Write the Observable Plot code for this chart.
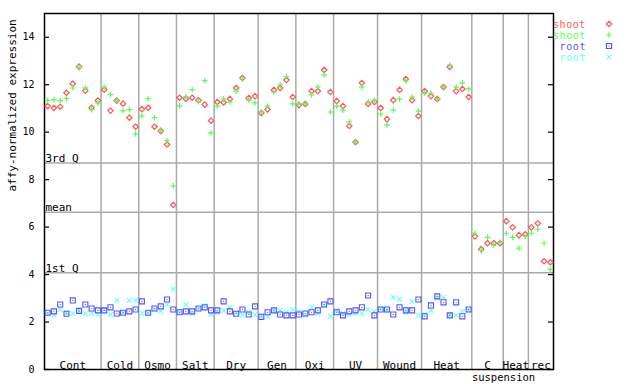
<!DOCTYPE html>
<html><head><meta charset="utf-8">
<script src="https://cdn.jsdelivr.net/npm/d3@7"></script>
<script src="https://cdn.jsdelivr.net/npm/@observablehq/plot@0.6"></script>
<style>
body{margin:0;background:#fff;}
#wrap{position:relative;width:640px;height:384px;}
#wrap svg.overlay{position:absolute;left:0;top:0;pointer-events:none;}
</style></head><body><div id="wrap"></div>
<script>
const groups = ["Cont","Cold","Osmo","Salt","Dry","Gen","Oxi","UV","Wound","Heat","C","Heat","rec"];
const groupSub = ["","","","","","","","","","","suspension","",""];
const groupSizes = [9,6,6,6,7,6,6,7,7,8,5,4,4];

const shootA = [
  11.10,11.02,11.07,11.66,12.04,12.76,11.75,11.03,11.33,
  11.79,10.90,11.33,11.20,10.61,10.23,
  10.97,11.03,10.23,10.05,9.48,6.93,
  11.45,11.41,11.45,11.34,11.16,10.48,
  11.27,11.25,11.40,11.86,12.28,11.44,11.52,
  10.81,10.96,11.78,11.86,12.20,11.48,
  11.14,11.19,11.73,11.73,12.62,11.69,
  11.31,11.10,10.26,9.58,12.07,11.19,11.27,
  11.02,10.55,11.35,11.78,12.24,11.35,10.68,
  11.73,11.52,11.40,11.90,12.75,11.73,11.82,11.48,
  5.61,5.07,5.32,5.32,5.32,
  6.25,5.99,5.66,5.70,
  5.99,6.16,4.56,4.52];
const shootB = [
  11.34,11.37,11.33,11.41,11.86,12.72,11.87,10.95,11.23,
  11.89,11.58,11.33,10.90,10.95,9.93,
  10.68,11.41,10.61,10.10,9.64,7.74,
  11.11,11.49,11.79,11.28,12.17,9.97,
  11.10,11.40,11.27,11.73,12.25,11.35,11.23,
  10.85,11.10,11.69,11.99,12.34,11.19,
  11.19,11.20,11.57,11.90,12.41,10.85,
  11.10,10.93,10.43,9.58,11.90,11.27,11.35,
  10.76,10.30,10.93,11.40,12.16,11.48,10.89,
  11.65,11.65,11.40,11.90,12.83,11.90,12.07,11.82,
  5.74,5.02,5.57,5.23,5.36,
  5.74,5.57,5.11,5.61,
  5.74,5.91,5.32,4.22];
const rootA = [
  2.39,2.45,2.74,2.35,2.91,2.47,2.74,2.57,2.49,
  2.49,2.62,2.36,2.39,2.45,2.53,
  2.87,2.39,2.57,2.66,2.95,2.53,
  2.41,2.45,2.45,2.57,2.62,2.49,
  2.49,2.87,2.45,2.35,2.53,2.32,2.66,
  2.22,2.41,2.49,2.32,2.28,2.28,
  2.32,2.36,2.41,2.49,2.74,2.87,
  2.41,2.28,2.45,2.49,2.62,3.12,2.28,
  2.53,2.53,2.32,2.62,2.49,2.49,2.95,
  2.24,2.70,3.08,2.83,2.28,2.83,2.24,2.53];
const rootB = [
  2.36,2.30,2.53,2.39,2.36,2.47,2.36,2.36,2.32,
  2.53,2.32,2.91,2.39,2.91,2.91,
  2.36,2.39,2.53,2.45,2.74,3.38,
  2.41,2.74,2.36,2.57,2.70,2.32,
  2.41,2.49,2.62,2.39,2.28,2.41,2.32,
  2.28,2.22,2.49,2.49,2.41,2.53,
  2.45,2.28,2.62,2.36,2.70,2.24,
  2.49,2.36,2.32,2.36,2.36,2.53,2.45,
  2.57,2.50,3.04,2.96,2.41,2.87,2.28,
  2.32,2.49,3.00,3.04,2.28,2.28,2.45,2.49];

const yTicks = [0,2,4,6,8,10,12,14];
const refNames = ["3rd Q","mean","1st Q"];
const refValues = [8.70,6.63,4.08];
const yLabel = "affy-normalized expression";
const legendNames = ["shoot","shoot","root","root"];
const legendColors = ["#ff5555","#55ff55","#5555ff","#66ffff"];
const legendSymbols = ["diamond2","plus","square2","times"];

// derived
const nSamples = groupSizes.reduce((a,b)=>a+b,0);
let acc = 0;
const groupInfo = groups.map((g,i)=>{const s=acc; acc+=groupSizes[i]; return {name:g, sub:groupSub[i], center:(s+acc-1)/2, end:acc-0.5};});
const separators = groupInfo.slice(0,-1).map(d=>d.end);
const pts = arr => arr.map((v,i)=>({i,v}));

const W=640,H=384,mL=44,mR=87,mT=13,mB=15;
const frameW = W-mL-mR;
const font = "DejaVu Sans Mono";
const grey = "#aaaaaa";
const R = {diamond2:2.45, plus:1.95, square2:3.2, times:2.25};

const plot = Plot.plot({
  width:W, height:H, marginLeft:mL, marginRight:mR, marginTop:mT, marginBottom:mB,
  style:{fontFamily:font, fontSize:"11px", color:"black", background:"white"},
  x:{domain:[-0.5,nSamples-0.5], axis:null},
  y:{domain:[0,15], axis:null},
  marks:[
    Plot.ruleX(separators,{stroke:grey, strokeWidth:1.5}),
    Plot.ruleY(refValues,{stroke:grey, strokeWidth:1.5}),
    Plot.text(refNames,{y:refValues, text:d=>d, frameAnchor:"left", textAnchor:"start", lineAnchor:"bottom", dx:1, dy:-1, fill:"black"}),
    Plot.text(groupInfo,{x:"center", text:"name", frameAnchor:"bottom", lineAnchor:"bottom", dy:-1, fill:"black"}),
    Plot.text(groupInfo.filter(d=>d.sub),{x:"center", text:"sub", frameAnchor:"bottom", lineAnchor:"top", dy:4, dx:16, fontSize:10.5, fill:"black"}),
    Plot.axisY({ticks:yTicks, tickSize:0, tickPadding:10, label:null, fontSize:"10px"}),
    Plot.tickY(yTicks,{stroke:"black", strokeWidth:1.2, insetRight:frameW-5}),
    Plot.tickY(yTicks,{stroke:"black", strokeWidth:1.2, insetLeft:frameW-5}),
    Plot.text([yLabel],{frameAnchor:"left", rotate:-90, dx:-32, fill:"black"}),
    Plot.frame({stroke:"black", strokeWidth:1.5}),
    Plot.dot(pts(rootB),{x:"i", y:"v", symbol:"times", r:R.times, stroke:legendColors[3], strokeWidth:1.1}),
    Plot.dot(pts(rootA),{x:"i", y:"v", symbol:"square2", r:R.square2, stroke:legendColors[2], strokeWidth:1.1}),
    Plot.dot(pts(rootA),{x:"i", y:"v", r:0.6, fill:legendColors[2], stroke:null}),
    Plot.dot(pts(shootA),{x:"i", y:"v", symbol:"diamond2", r:R.diamond2, stroke:legendColors[0], strokeWidth:1.2}),
    Plot.dot(pts(shootB),{x:"i", y:"v", symbol:"plus", r:R.plus, stroke:legendColors[1], strokeWidth:1.2})
  ]
});
const wrap = document.getElementById("wrap");
wrap.appendChild(plot);

// legend overlay
const ov = d3.select(wrap).append("svg").attr("class","overlay").attr("width",W).attr("height",H)
  .style("font-family",font).style("font-size","10px").style("letter-spacing","0.6px");
const symMap = {diamond2:d3.symbolDiamond2, plus:d3.symbolPlus, square2:d3.symbolSquare2, times:d3.symbolTimes};
legendNames.forEach((name,i)=>{
  const y = 24 + i*11;
  ov.append("text").attr("x",586).attr("y",y).attr("dy","0.35em").attr("text-anchor","end")
    .attr("fill",legendColors[i]).text(name);
  const r = R[legendSymbols[i]];
  ov.append("path").attr("transform",`translate(609,${y})`)
    .attr("d",d3.symbol(symMap[legendSymbols[i]], r*r*Math.PI)()).attr("fill","none")
    .attr("stroke",legendColors[i]).attr("stroke-width",1.2);
  if (legendSymbols[i]==="square2") ov.append("circle").attr("cx",609).attr("cy",y).attr("r",0.6).attr("fill",legendColors[i]);
});
</script></body></html>
